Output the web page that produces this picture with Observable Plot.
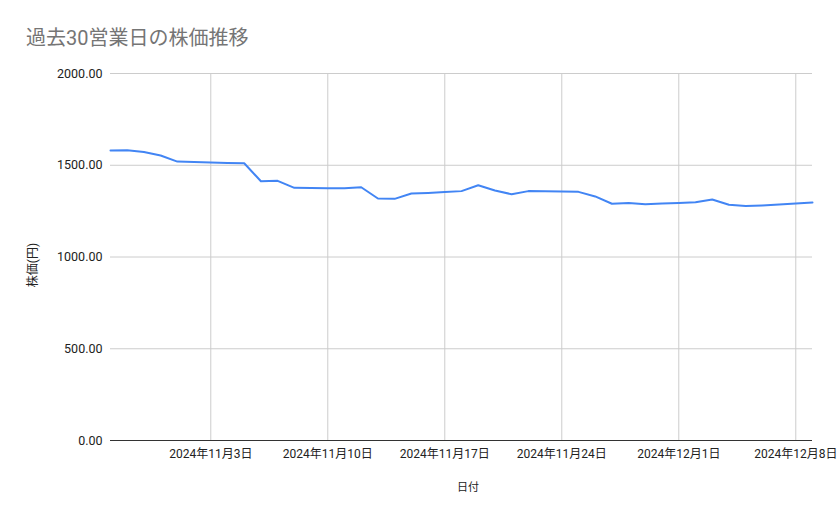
<!DOCTYPE html>
<html>
<head>
<meta charset="utf-8">
<script src="https://cdn.jsdelivr.net/npm/d3@7"></script>
<script src="https://cdn.jsdelivr.net/npm/@observablehq/plot@0.6"></script>
<style>
  html, body { margin: 0; padding: 0; background: #fff; }
  #wrap { position: relative; width: 839px; height: 519px; font-family: Roboto, "Noto Sans CJK JP", sans-serif; }
  .lbl { position: absolute; color: #222; white-space: nowrap; line-height: 1; }
  #title { left: 26px; top: 28px; font-size: 20px; color: #757575; }
  #xlab { left: 468px; top: 487px; font-size: 11px; transform: translate(-50%, -50%); }
  #ylab { left: 33px; top: 265px; font-size: 12px; transform: translate(-50%, -50%) rotate(-90deg); }
</style>
</head>
<body>
<div id="wrap">
  <div class="lbl" id="title">過去30営業日の株価推移</div>
  <div class="lbl" id="xlab">日付</div>
  <div class="lbl" id="ylab">株価(円)</div>
</div>
<script>
const startDate = "2024-10-28";
const prices = [
  1580, 1582, 1572, 1553, 1520, 1518, 1515, 1512, 1511,
  1413, 1415, 1377, 1376, 1375, 1375, 1380, 1319, 1317,
  1346, 1349, 1354, 1359, 1391, 1362, 1342, 1359, 1358,
  1357, 1355, 1330, 1290, 1294, 1288, 1291, 1294, 1298,
  1313, 1285, 1278, 1281, 1286, 1291, 1297
];
const tickDates = ["2024-11-03", "2024-11-10", "2024-11-17", "2024-11-24", "2024-12-01", "2024-12-08"];
const yTicks = [0, 500, 1000, 1500, 2000];

const t0 = new Date(startDate + "T00:00:00Z");
const data = prices.map((p, i) => ({ date: d3.utcDay.offset(t0, i), price: p }));
const xTicks = tickDates.map(s => new Date(s + "T00:00:00Z"));
const fmtDate = d => `${d.getUTCFullYear()}年${d.getUTCMonth() + 1}月${d.getUTCDate()}日`;

const chart = Plot.plot({
  width: 839,
  height: 519,
  marginLeft: 110,
  marginRight: 27,
  marginTop: 73,
  marginBottom: 79,
  style: { fontFamily: 'Roboto, "Noto Sans CJK JP", sans-serif', fontSize: "12.5px", color: "#222", background: "transparent" },
  x: { type: "utc", domain: [data[0].date, data[data.length - 1].date] },
  y: { domain: [0, 2000] },
  marks: [
    Plot.gridY(yTicks, { stroke: "#cccccc", strokeOpacity: 1 }),
    Plot.gridX(xTicks, { stroke: "#cccccc", strokeOpacity: 1 }),
    Plot.axisY(yTicks, { tickSize: 0, tickPadding: 8, tickFormat: d3.format(".2f"), label: null, fill: "#222" }),
    Plot.axisX(xTicks, { tickSize: 0, tickPadding: 9, tickFormat: fmtDate, label: null, fill: "#222", fontSize: "12px" }),
    Plot.ruleY([0], { stroke: "#333", strokeWidth: 1 }),
    Plot.line(data, { x: "date", y: "price", stroke: "#4285F4", strokeWidth: 2 })
  ]
});
chart.style.position = "absolute";
chart.style.left = "0";
chart.style.top = "0";
document.getElementById("wrap").prepend(chart);
</script>
</body>
</html>
